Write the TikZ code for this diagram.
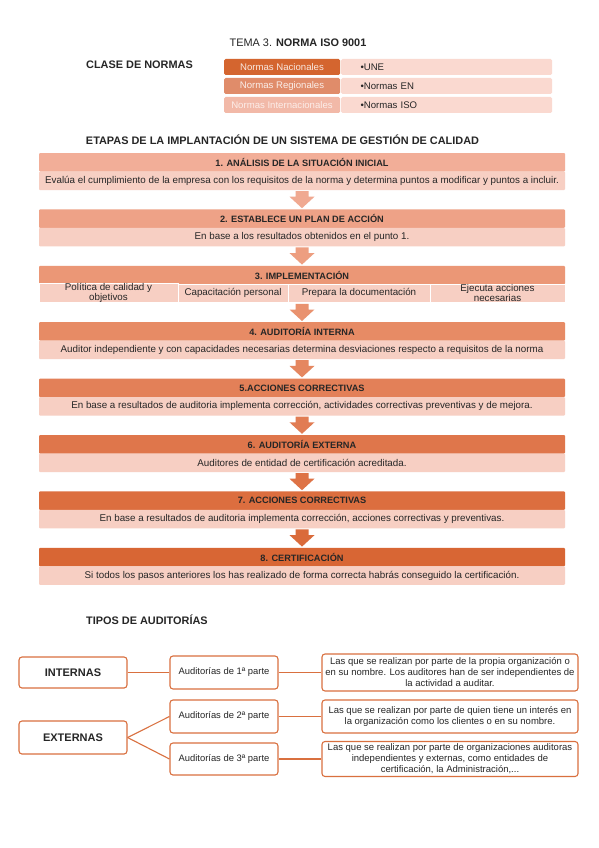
\documentclass[tikz,border=0pt]{standalone}
\usepackage{fontspec}
\setmainfont{Liberation Sans}
\usetikzlibrary{calc}
\definecolor{txt}{HTML}{262626}
\definecolor{hcA}{HTML}{F2AE98}
\definecolor{hcB}{HTML}{EEA287}
\definecolor{hcC}{HTML}{EB9776}
\definecolor{hcD}{HTML}{E78B65}
\definecolor{hcE}{HTML}{E38058}
\definecolor{hcF}{HTML}{DF764B}
\definecolor{hcG}{HTML}{DC6E3F}
\definecolor{hcH}{HTML}{D86634}
\definecolor{descbg}{HTML}{F7CFC3}
\definecolor{nrow1}{HTML}{D4652F}
\definecolor{nrow2}{HTML}{E08C6A}
\definecolor{nrow3}{HTML}{F2B9A8}
\definecolor{nright}{HTML}{FAD9D0}
\definecolor{audline}{HTML}{D9703F}
\begin{document}
\begin{tikzpicture}[x=1pt,y=-1pt,
  hdr/.style={minimum width=526, minimum height=18.5, inner sep=0, rounded corners=1pt,
    font=\fontsize{9.2}{10}\selectfont\bfseries, text=txt},
  desc/.style={fill=descbg, minimum width=526, minimum height=18.5, inner sep=0, rounded corners=1pt,
    font=\fontsize{9.8}{11}\selectfont, text=txt},
  cell/.style={fill=descbg, draw=white, line width=0.5pt, minimum height=18.5, inner sep=0,
    align=center, font=\fontsize{9.8}{9.6}\selectfont, text=txt},
  heading/.style={font=\fontsize{10.9}{13}\selectfont\bfseries, text=txt, inner sep=0},
  nleft/.style={minimum width=116, minimum height=16, inner sep=0, rounded corners=1.5pt,
    font=\fontsize{9.6}{10}\selectfont},
  nright/.style={fill=nright, minimum width=211, minimum height=16, inner sep=0, rounded corners=1.5pt,
    text width=172, align=left, font=\fontsize{9.6}{10}\selectfont, text=txt},
  audbox/.style={draw=audline, line width=1.1pt, rounded corners=3pt, fill=white, inner sep=0,
    minimum width=108, text=txt},
  audtxt/.style={draw=audline, line width=1.1pt, rounded corners=3pt, fill=white, inner sep=0,
    minimum width=256, align=center, font=\fontsize{9.5}{11}\selectfont, text=txt},
  audline/.style={draw=audline, line width=1.1pt}
]
\useasboundingbox[fill=white] (0,0) rectangle (599,848);

% title
\node[inner sep=0, text=txt, font=\fontsize{10.9}{13}\selectfont] (title) at (298,43) {TEMA 3. \textbf{NORMA ISO 9001}};
\node[heading, anchor=west] (clase) at (86,65) {CLASE DE NORMAS};

% normas table
\node[nleft, fill=nrow1, text=white!85!nrow1] (nl1) at (282,67) {Normas Nacionales};
\node[nleft, fill=nrow2, text=white!85!nrow2] (nl2) at (282,86) {Normas Regionales};
\node[nleft, fill=nrow3, text=white!75!nrow3] (nl3) at (282,105) {Normas Internacionales};
\node[nright] (nr1) at (446.5,67) {•UNE};
\node[nright] (nr2) at (446.5,86) {•Normas EN};
\node[nright] (nr3) at (446.5,105) {•Normas ISO};

\node[heading] (etapas) at (282.5,140) {ETAPAS DE LA IMPLANTACIÓN DE UN SISTEMA DE GESTIÓN DE CALIDAD};

% stages
\foreach \i/\col/\head/\txt in {
  1/hcA/{1. ANÁLISIS DE LA SITUACIÓN INICIAL}/{Evalúa el cumplimiento de la empresa con los requisitos de la norma y determina puntos a modificar y puntos a incluir.},
  2/hcB/{2. ESTABLECE UN PLAN DE ACCIÓN}/{En base a los resultados obtenidos en el punto 1.},
  3/hcC/{3. IMPLEMENTACIÓN}/{},
  4/hcD/{4. AUDITORÍA INTERNA}/{Auditor independiente y con capacidades necesarias determina desviaciones respecto a requisitos de la norma},
  5/hcE/{5.ACCIONES CORRECTIVAS}/{En base a resultados de auditoria implementa corrección, actividades correctivas preventivas y de mejora.},
  6/hcF/{6. AUDITORÍA EXTERNA}/{Auditores de entidad de certificación acreditada.},
  7/hcG/{7. ACCIONES CORRECTIVAS}/{En base a resultados de auditoria implementa corrección, acciones correctivas y preventivas.},
  8/hcH/{8. CERTIFICACIÓN}/{Si todos los pasos anteriores los has realizado de forma correcta habrás conseguido la certificación.}}
{
  \pgfmathsetmacro{\top}{153+56.4*(\i-1)}
  \node[hdr, fill=\col] (h\i) at (302,\top+9.25) {\head};
  \node[desc] (d\i) at (302,\top+27.75) {\txt};
}

% stage 3 cells
\node[cell, minimum width=139] (c1) at (108.5,293.05) {Política de calidad y\\objetivos};
\node[cell, minimum width=110] (c2) at (233,293.05) {Capacitación personal};
\node[cell, minimum width=142] (c3) at (359,293.05) {Prepara la documentación};
\node[cell, minimum width=135] (c4) at (497.5,293.05) {Ejecuta acciones\\necesarias};

% arrows between stages
\foreach \i/\j/\col in {1/2/hcA!60!hcB, 2/3/hcB!60!hcC, 3/4/hcC!60!hcD, 4/5/hcD!60!hcE, 5/6/hcE!60!hcF, 6/7/hcF!60!hcG, 7/8/hcG!60!hcH}
{
  \fill[\col] ($(d\i.south)+(-6.5,0.8)$) -- ($(d\i.south)+(6.5,0.8)$) -- ($(d\i.south)+(6.5,6.5)$)
    -- ($(d\i.south)+(12.5,6.5)$) -- ($(h\j.north)+(0,-1)$) -- ($(d\i.south)+(-12.5,6.5)$)
    -- ($(d\i.south)+(-6.5,6.5)$) -- cycle;
}

% tipos de auditorias
\node[heading, anchor=west] (tipos) at (86,620) {TIPOS DE AUDITORÍAS};

\node[audbox, minimum height=31, font=\fontsize{11}{13}\selectfont\bfseries] (int) at (73,672.5) {INTERNAS};
\node[audbox, minimum height=33, font=\fontsize{11}{13}\selectfont\bfseries] (ext) at (73,737.5) {EXTERNAS};
\node[audbox, minimum height=33, font=\fontsize{9.4}{11}\selectfont] (a1) at (224,672.5) {Auditorías de 1ª parte};
\node[audbox, minimum height=33, font=\fontsize{9.4}{11}\selectfont] (a2) at (224,716.5) {Auditorías de 2ª parte};
\node[audbox, minimum height=32, font=\fontsize{9.4}{11}\selectfont] (a3) at (224,759) {Auditorías de 3ª parte};

\node[audtxt, minimum height=37] (t1) at (450,672.5) {Las que se realizan por parte de la propia organización o\\en su nombre. Los auditores han de ser independientes de\\la actividad a auditar.};
\node[audtxt, minimum height=33] (t2) at (450,716.5) {Las que se realizan por parte de quien tiene un interés en\\la organización como los clientes o en su nombre.};
\node[audtxt, minimum height=35] (t3) at (450,759) {Las que se realizan por parte de organizaciones auditoras\\independientes y externas, como entidades de\\certificación, la Administración,...};

\draw[audline] (int.east) -- (a1.west);
\draw[audline] (ext.east) -- (a2.west);
\draw[audline] (ext.east) -- (a3.west);
\draw[audline] (a1.east) -- (t1.west);
\draw[audline] (a2.east) -- (t2.west);
\draw[audline] (a3.east) -- (t3.west);
\end{tikzpicture}
\end{document}
